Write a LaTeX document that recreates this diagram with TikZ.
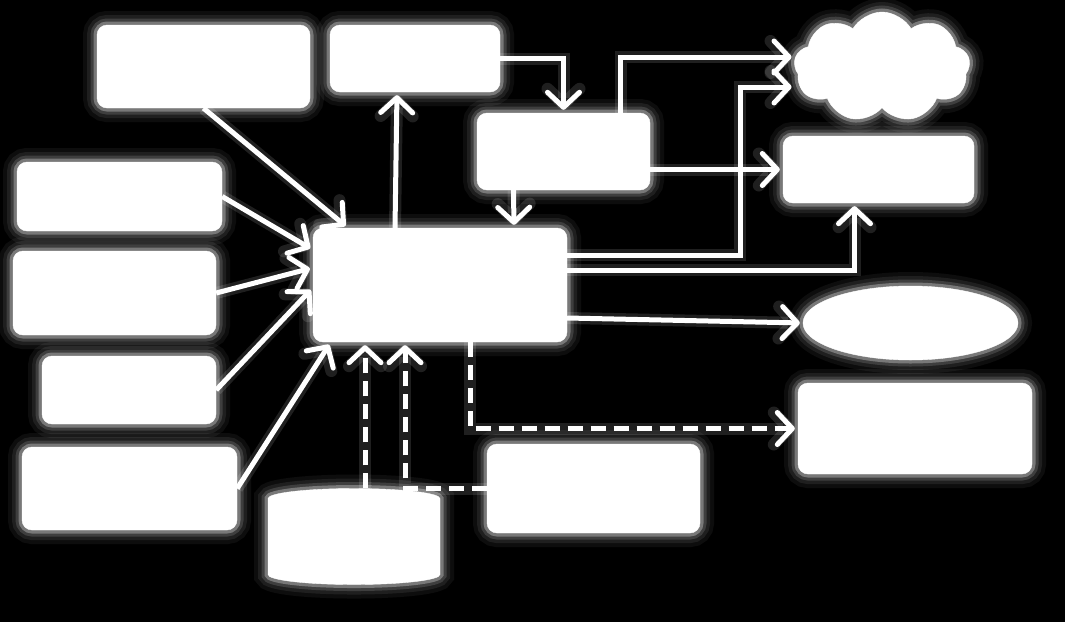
\documentclass[tikz,border=0pt]{standalone}
\usepackage{tikz}
\usetikzlibrary{positioning,arrows.meta,shapes.geometric,shapes.symbols,calc}

\begin{document}
\begin{tikzpicture}[
  x=1pt, y=-1pt,
  glow/.style={preaction={draw=white, line width=28pt, opacity=0.05},
               preaction={draw=white, line width=20pt, opacity=0.08},
               preaction={draw=white, line width=13pt, opacity=0.14},
               preaction={draw=white, line width=7pt, opacity=0.3}},
  box/.style={glow, draw=white, fill=white, rounded corners=10pt, inner sep=0pt},
  arr/.style={-{Straight Barb[length=15pt,width=32pt,round]}, draw=white, line width=5pt,
              preaction={draw=white, line width=12pt, opacity=0.12}, shorten >=3pt},
  dashy/.style={arr, dash pattern=on 15pt off 8pt}
]
  % background
  \fill[black] (0,0) rectangle (1065,622);
  \useasboundingbox (0,0) rectangle (1065,622);

  % Sources on the left
  \node[box, minimum width=213pt, minimum height=83pt] (src) at (203.5,66.5) {};
  \node[box, minimum width=205pt, minimum height=69pt] (left1) at (119.5,196.5) {};
  \node[box, minimum width=203pt, minimum height=84pt] (left2) at (114.5,293) {};
  \node[box, minimum width=174pt, minimum height=68pt] (left3) at (129,390) {};
  \node[box, minimum width=215pt, minimum height=83pt] (left4) at (129.5,488.5) {};

  % Central block
  \node[box, minimum width=254pt, minimum height=114pt] (core) at (440,285) {};

  % Upper chain
  \node[box, minimum width=170pt, minimum height=67pt] (top) at (415,58.5) {};
  \node[box, minimum width=173pt, minimum height=77pt] (mid) at (563.5,151.5) {};

  % Targets on the right
  \node[glow, cloud, cloud puffs=9, cloud puff arc=120, aspect=1.6, draw=white, fill=white,
        minimum width=176pt, minimum height=110pt] (cloud) at (882,67) {};
  \node[box, minimum width=191pt, minimum height=67pt] (store) at (878.5,169.5) {};
  \node[glow, ellipse, draw=white, fill=white, minimum width=215pt, minimum height=74pt] (oval) at (910.5,323) {};
  \node[box, minimum width=234pt, minimum height=91pt] (report) at (915,428.5) {};

  % Bottom inputs
  \node[box, minimum width=213pt, minimum height=89pt] (aux) at (593.5,488.5) {};
  \node[glow, cylinder, shape border rotate=90, aspect=3, draw=white, fill=white,
        minimum width=172pt, minimum height=96pt] (db) at (354,543) {};

  % Arrows into core
  \draw[arr] (src.south) -- ([xshift=35pt]core.north west);
  \draw[arr] (left1.east) -- ([yshift=-22pt]core.north west);
  \draw[arr] (left2.east) -- ([yshift=-40pt]core.north west);
  \draw[arr] (left3.east) -- ([yshift=-60pt]core.north west);
  \draw[arr] (left4.east) -- ([xshift=18pt]core.south west);

  % Upper chain
  \draw[arr] ([xshift=-45pt]core.north) -- ([xshift=-18pt]top.south);
  \draw[arr] (top.east) -| (mid.north);
  \draw[arr] ([xshift=-50pt]mid.south) -- ([xshift=74pt]core.north);
  \draw[arr] ([xshift=57pt]mid.north) |- ([yshift=10pt]cloud.west);
  \draw[arr] (mid.east |- store.west) -- (store.west);

  % Core outputs
  \draw[arr] ([yshift=30pt]core.east) -- ++(173,0) |- ([yshift=-20pt]cloud.west);
  \draw[arr] ([yshift=15pt]core.east) -| ([xshift=-24pt]store.south);
  \draw[arr] ([yshift=-33pt]core.east) -- (oval.west);
  \draw[dashy] ([xshift=30pt]core.south) |- (report.west);

  % Dashed feeds
  \draw[dashy] ([xshift=11pt]db.north) -- ([xshift=-75pt]core.south);
  \draw[dashy] (aux.west) -| ([xshift=-35pt]core.south);
\end{tikzpicture}
\end{document}
